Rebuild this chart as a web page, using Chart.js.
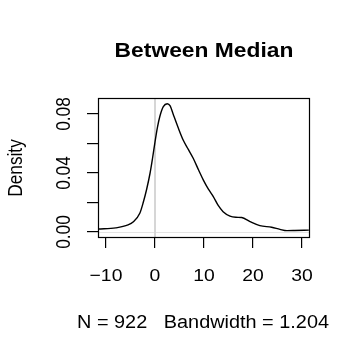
<!DOCTYPE html>
<html>
<head>
<meta charset="utf-8">
<script src="https://cdn.jsdelivr.net/npm/chart.js"></script>
<style>
  html, body { margin: 0; padding: 0; background: #fff; }
  #c { display: block; }
</style>
</head>
<body>
<canvas id="c" width="360" height="360"></canvas>
<script>
// density estimate
const densityX = [-11.6, -8, -5.5, -4.4, -3.1, -2.4, -1.7, -1.0, -0.5, 0, 0.5, 1.0, 1.7, 2.5, 3.1, 3.7, 4.7, 5.8, 6.8, 7.8, 8.9, 9.9, 10.9, 11.9, 12.9, 13.9, 15.3, 16.5, 17.7, 19.4, 21.4, 23.8, 25.5, 26.9, 28.5, 31.4];
const densityY = [0.0020, 0.0028, 0.0048, 0.0070, 0.0127, 0.0200, 0.0290, 0.0400, 0.0500, 0.0610, 0.0710, 0.0785, 0.0850, 0.0870, 0.0855, 0.0800, 0.0710, 0.0620, 0.0560, 0.0500, 0.0420, 0.0350, 0.0290, 0.0240, 0.0180, 0.0138, 0.0108, 0.0100, 0.0098, 0.0070, 0.0043, 0.0032, 0.0018, 0.0009, 0.0010, 0.0013];

const xTicks = [-10, 0, 10, 20, 30];
const xTickLabels = ['\u221210', '0', '10', '20', '30'];
const yTicks = [0, 0.02, 0.04, 0.06, 0.08];
const yTickLabels = ['0.00', '', '0.04', '', '0.08'];

const titleText = 'Between Median';
const xTitle = 'N = 922   Bandwidth = 1.204';
const yTitle = 'Density';

const FONT = '"Liberation Sans", Arial, Helvetica, sans-serif';

// R output was stretched sideways, so text gets a horizontal scale
function stretchedText(ctx, text, x, y, font, sx, rot) {
  ctx.save();
  ctx.translate(x, y);
  ctx.scale(sx, 1);
  if (rot) ctx.rotate(rot);
  ctx.font = font;
  ctx.fillStyle = '#000';
  ctx.textAlign = 'center';
  ctx.textBaseline = 'alphabetic';
  ctx.fillText(text, 0, 0);
  ctx.restore();
}

const rPlot = {
  id: 'rPlot',
  beforeDatasetsDraw(chart) {
    const { ctx, chartArea: a, scales: { x, y } } = chart;
    ctx.save();
    // zero lines
    const y0 = Math.round(y.getPixelForValue(0)) + 0.5;
    ctx.strokeStyle = '#e4e4e4';
    ctx.lineWidth = 1;
    ctx.beginPath();
    ctx.moveTo(a.left, y0);
    ctx.lineTo(a.right, y0);
    ctx.stroke();
    const x0 = Math.round(x.getPixelForValue(0));
    ctx.strokeStyle = '#d6d6d6';
    ctx.lineWidth = 2;
    ctx.beginPath();
    ctx.moveTo(x0, a.top);
    ctx.lineTo(x0, a.bottom);
    ctx.stroke();
    ctx.restore();
  },
  afterDraw(chart) {
    const { ctx, chartArea: a, scales: { x, y } } = chart;
    ctx.save();
    ctx.strokeStyle = '#000';
    ctx.lineWidth = 1.2;
    ctx.strokeRect(Math.round(a.left) + 0.5, Math.round(a.top) + 0.5,
      Math.round(a.right - a.left), Math.round(a.bottom - a.top));
    ctx.restore();

    stretchedText(ctx, titleText, 204, 57, 'bold 19.5px ' + FONT, 1.17);

    xTicks.forEach((v, i) => {
      stretchedText(ctx, xTickLabels[i], x.getPixelForValue(v), 281, '17.3px ' + FONT, 1.12);
    });
    yTicks.forEach((v, i) => {
      if (!yTickLabels[i]) return;
      stretchedText(ctx, yTickLabels[i], 70, y.getPixelForValue(v), '17.3px ' + FONT, 1.12, -Math.PI / 2);
    });

    stretchedText(ctx, yTitle, 22, 168, '17.3px ' + FONT, 1.12, -Math.PI / 2);
    stretchedText(ctx, xTitle, 203, 328, '17.6px ' + FONT, 1.13);
  }
};

const axisGrid = {
  drawOnChartArea: false,
  drawTicks: true,
  tickLength: 11,
  color: '#000',
  lineWidth: 1.2
};

new Chart(document.getElementById('c'), {
  type: 'line',
  data: {
    datasets: [{
      data: densityX.map((v, i) => ({ x: v, y: densityY[i] })),
      borderColor: '#000',
      borderWidth: 1.4,
      pointRadius: 0,
      fill: false,
      cubicInterpolationMode: 'monotone'
    }]
  },
  options: {
    responsive: false,
    devicePixelRatio: 1,
    animation: false,
    layout: { padding: { top: 98, right: 51, left: 0, bottom: 0 } },
    plugins: {
      legend: { display: false },
      tooltip: { enabled: false },
      title: { display: false }
    },
    scales: {
      x: {
        type: 'linear',
        min: -11.63,
        max: 31.43,
        afterBuildTicks: s => { s.ticks = xTicks.map(v => ({ value: v })); },
        afterFit: s => { s.height = 123; },
        ticks: { display: false },
        grid: axisGrid,
        border: { display: false }
      },
      y: {
        type: 'linear',
        min: -0.00339,
        max: 0.09085,
        afterBuildTicks: s => { s.ticks = yTicks.map(v => ({ value: v })); },
        afterFit: s => { s.width = 98; },
        ticks: { display: false },
        grid: axisGrid,
        border: { display: false }
      }
    }
  },
  plugins: [rPlot]
});
</script>
</body>
</html>
